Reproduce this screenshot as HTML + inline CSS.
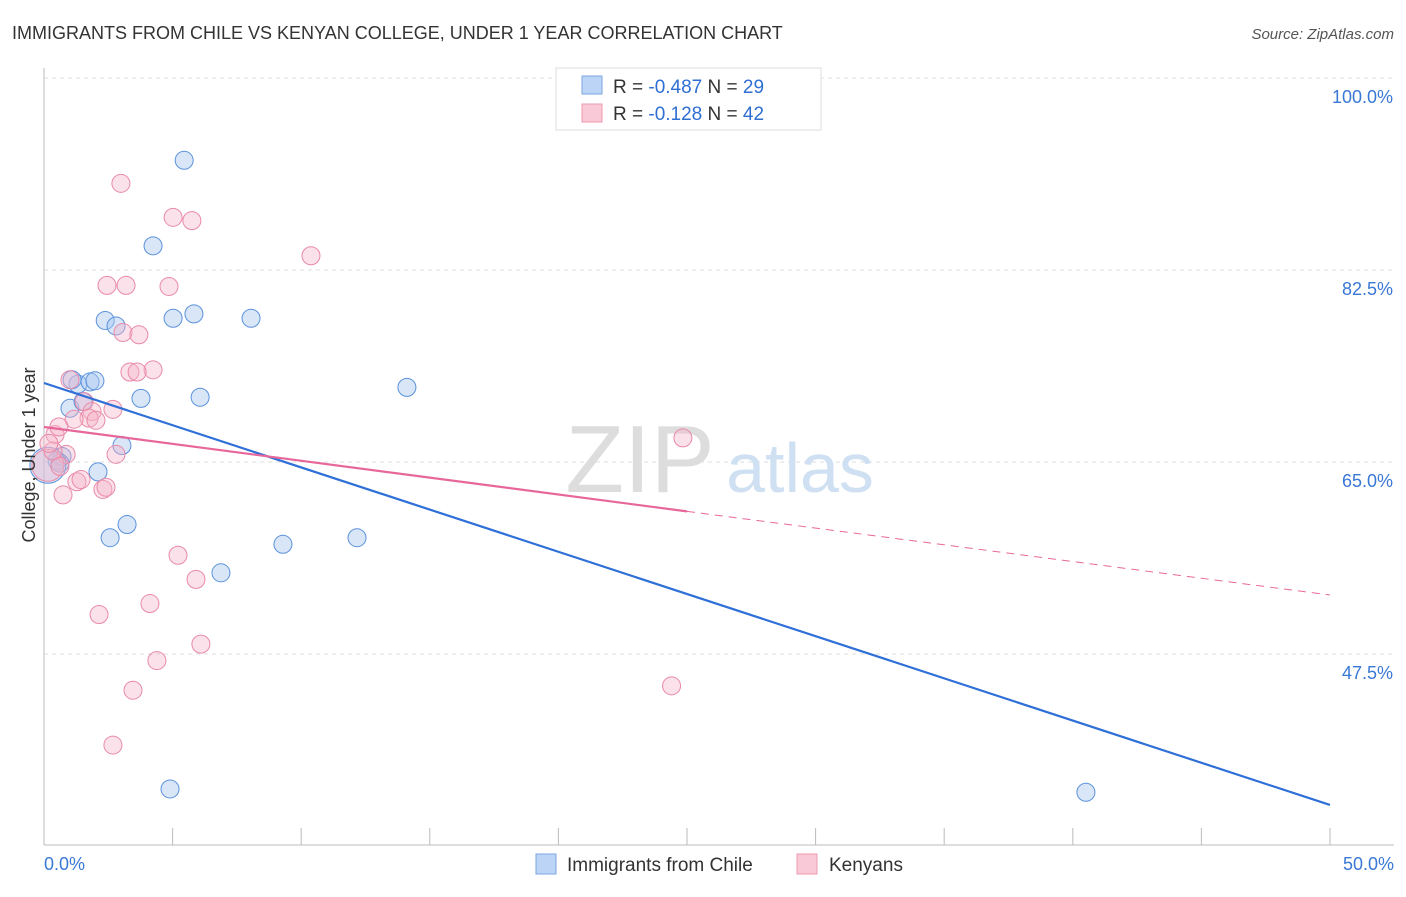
<!DOCTYPE html>
<html><head><meta charset="utf-8"><style>
body{margin:0;background:#fff;font-family:"Liberation Sans",sans-serif}
svg text{font-family:"Liberation Sans",sans-serif}
</style></head><body>
<svg id="chart" width="1406" height="892" xmlns="http://www.w3.org/2000/svg">
<text x="12" y="39" font-size="18" fill="#333">IMMIGRANTS FROM CHILE VS KENYAN COLLEGE, UNDER 1 YEAR CORRELATION CHART</text>
<text x="1394" y="39" font-size="15" fill="#555" text-anchor="end" font-style="italic">Source: ZipAtlas.com</text>
<g id="grid"></g>
<text x="640" y="492" font-size="96" fill="#ddd" font-family="Liberation Serif" text-anchor="middle">ZIP</text>
<text x="800" y="492" font-size="70" fill="#cfe0f3" text-anchor="middle">atlas</text>
<g id="pts"></g>
<g id="lines"></g>
<text x="35" y="455" font-size="18" fill="#333" text-anchor="middle" transform="rotate(-90 35 455)">College, Under 1 year</text>
<g>
<rect x="556" y="68" width="265" height="62" fill="#fff" stroke="#ddd"/>
<rect x="582" y="76" width="20" height="18" fill="#bcd4f5" stroke="#7aa6e0"/>
<rect x="582" y="104" width="20" height="18" fill="#f9c9d7" stroke="#eb9ab2"/>
<text x="613" y="93" font-size="19" fill="#333">R = <tspan fill="#2f6fd3">-0.487</tspan>   N = <tspan fill="#2f6fd3">29</tspan></text>
<text x="613" y="120" font-size="19" fill="#333">R =  <tspan fill="#2f6fd3">-0.128</tspan>   N = <tspan fill="#2f6fd3">42</tspan></text>
</g>
<g>
<rect x="536" y="854" width="20" height="20" fill="#bcd4f5" stroke="#7aa6e0"/>
<text x="567" y="871" font-size="19" fill="#333">Immigrants from Chile</text>
<rect x="797" y="854" width="20" height="20" fill="#f9c9d7" stroke="#eb9ab2"/>
<text x="829" y="871" font-size="19" fill="#333">Kenyans</text>
</g>
</svg>
<script>
const yTicks=[100,82.5,65,47.5];
const yTickLabels=["100.0%","82.5%","65.0%","47.5%"];
const xTickLabels=["0.0%","50.0%"];
const chileX=[5.45,4.24,2.38,2.8,5.02,5.83,8.05,1.32,1.79,1.98,1.09,1.01,1.52,3.77,6.07,14.11,3.03,0.70,0.51,0.62,2.1,3.23,2.57,9.29,12.17,6.88,4.9,40.51,0.15];
const chileY=[92.5,84.7,77.9,77.4,78.1,78.5,78.1,72.1,72.3,72.4,72.5,69.9,70.5,70.8,70.9,71.8,66.5,65.5,65.1,64.9,64.1,59.3,58.1,57.5,58.1,54.9,35.2,34.9,64.7];
const kenyaX=[2.99,5.02,5.75,10.38,2.45,3.19,4.86,3.07,3.69,4.24,3.34,3.62,1.01,1.56,1.87,2.68,1.75,2.02,1.17,0.43,0.58,0.86,2.8,24.84,0.74,1.28,1.44,2.29,2.41,5.21,5.91,4.12,2.14,6.1,4.39,3.46,24.4,2.68,0.15,0.35,0.19,0.62];
const kenyaY=[90.4,87.3,87.0,83.8,81.1,81.1,81.0,76.8,76.6,73.4,73.2,73.2,72.5,70.5,69.6,69.8,69.0,68.8,68.9,67.5,68.2,65.7,65.7,67.2,62.0,63.2,63.4,62.5,62.7,56.5,54.3,52.1,51.1,48.4,46.9,44.2,44.6,39.2,64.7,66.0,66.7,64.6];
const blueLine=[[0,72.2],[50,33.74]];
const pinkSolid=[[0,68.19],[25,60.5]];
const pinkDash=[[25,60.5],[50,52.88]];
const NS="http://www.w3.org/2000/svg";
const X=v=>44+v/50*1286, Y=v=>78+(100-v)/17.5*192;
function mk(tag,attrs,parent){const e=document.createElementNS(NS,tag);for(const k in attrs)e.setAttribute(k,attrs[k]);parent.appendChild(e);return e;}
const grid=document.getElementById('grid');
const ax=mk('line',{x1:44,y1:68,x2:44,y2:845,stroke:'#bbb'},grid);


const bx=mk('line',{x1:44,y1:845,x2:1394,y2:845,stroke:'#bbb'},grid);


yTicks.forEach((t,i)=>{
 const l=mk('line',{x1:44,x2:1394,y1:Y(t),y2:Y(t),stroke:'#ddd','stroke-dasharray':'4,4'},grid);
 
 
 const tx=mk('text',{x:1393,y:Y(t)+25,'font-size':18,fill:'#3a78d6','text-anchor':'end'},grid);
 tx.textContent=yTickLabels[i];
 
 
});
for(let i=0;i<=10;i++){const x=X(i*5);
 const t=mk('line',{x1:x,x2:x,y1:828,y2:845,stroke:'#bbb'},grid);
 
 }
[[0,'start',44],[50,'end',1394]].forEach((d,i)=>{
 const tx=mk('text',{x:d[2],y:870,'font-size':18,fill:'#3a78d6','text-anchor':d[1]},grid);
 tx.textContent=xTickLabels[i];
 
 });
const pts=document.getElementById('pts');
chileX.forEach((v,i)=>{const big=i==chileX.length-1;
 const c=mk('circle',{cx:X(v),cy:Y(chileY[i]),r:big?18:9,fill:'#a9c8f0','fill-opacity':0.45,stroke:'#5b92dc','stroke-width':1},pts);
 
 });
kenyaX.forEach((v,i)=>{const big=i==kenyaX.length-4;
 const c=mk('circle',{cx:X(v),cy:Y(kenyaY[i]),r:big?16:9,fill:'#f6b3c8','fill-opacity':0.4,stroke:'#e98aa8','stroke-width':1},pts);
 
 });
const lines=document.getElementById('lines');
function ln(p,st,w,dash,name){const e=mk('line',{x1:X(p[0][0]),y1:Y(p[0][1]),x2:X(p[1][0]),y2:Y(p[1][1]),stroke:st,'stroke-width':w},lines);if(dash)e.setAttribute('stroke-dasharray',dash);
 
 }
ln(blueLine,'#2f6fd8',2.2,null,'chile-trend-line');
ln(pinkSolid,'#e8679a',2.2,null,'kenyan-trend-line');
ln(pinkDash,'#e8679a',1,'8,6','kenyan-trend-extension');
</script>
</body></html>
